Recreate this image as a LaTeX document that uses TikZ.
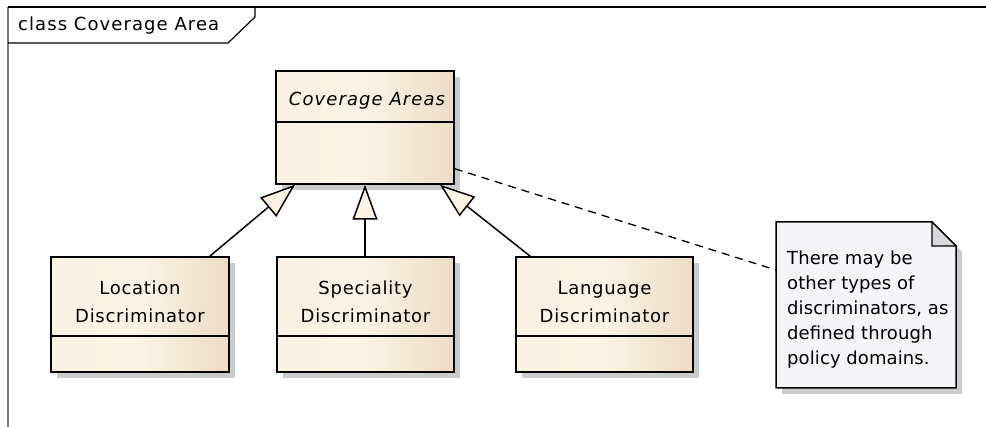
\documentclass[tikz,border=0pt]{standalone}
\usepackage{fontspec}
\setmainfont{DejaVu Sans}
\newfontfamily\boxfont{DejaVu Sans}[LetterSpace=4]
\newfontfamily\italfont{DejaVu Sans}[LetterSpace=6]
\newfontfamily\titlefont{DejaVu Sans}[LetterSpace=6]
\newfontfamily\notefont{DejaVu Sans}[LetterSpace=0.5]
\usetikzlibrary{arrows.meta,calc,shadows}
\definecolor{shadowgray}{HTML}{CBCBCB}
\definecolor{boxleft}{HTML}{FBF2E4}
\definecolor{boxmid}{HTML}{FCF3E6}
\definecolor{boxright}{HTML}{ECDCC5}
\definecolor{arrowfill}{HTML}{FDF4E6}
\definecolor{notefill}{HTML}{F5F4F8}
\definecolor{foldfill}{HTML}{D8D7DC}
\definecolor{framegray}{HTML}{7A7A7A}
\tikzset{
  classbox/.style={draw=black, line width=1.5pt, minimum width=178pt, inner sep=0pt,
    left color=boxleft, right color=boxright, middle color=boxmid,
    drop shadow={shadow xshift=6pt, shadow yshift=-6pt, fill=shadowgray, opacity=1}},
  boxtext/.style={font=\boxfont\fontsize{18}{28}\selectfont, align=center, inner sep=0pt},
  divider/.style={line width=1.5pt},
  generalization/.style={line width=1.5pt, -{Triangle[length=35pt,width=25pt,fill=arrowfill]}},
  notelink/.style={line width=1.3pt, dash pattern=on 8pt off 6pt},
}
\begin{document}
\begin{tikzpicture}[x=1pt,y=-1pt]
\useasboundingbox (0,0) rectangle (986,427);
% frame
\draw[framegray, line width=1.2pt] (8,427) -- (8,7);
\draw[black, line width=1.2pt] (8,7) -- (986,7);
\draw[black, line width=1.2pt] (8,43) -- (228,43) -- (255,17) -- (255,7);
\node[anchor=west, inner sep=0pt, font=\titlefont\fontsize{18}{22}\selectfont] (frametitle) at (18,26) {class Coverage Area};

% class boxes
\node[classbox, minimum height=113pt] (ca) at (365,127.5) {};
\draw[divider] ($(ca.north west)+(0,52)$) -- ($(ca.north east)+(0,52)$);
\node[font=\italfont\itshape\fontsize{18}{28}\selectfont, inner sep=0pt] (catext) at (367,101) {Coverage Areas};

\node[classbox, minimum height=115pt] (loc) at (140,314.5) {};
\draw[divider] ($(loc.north west)+(0,80)$) -- ($(loc.north east)+(0,80)$);
\node[boxtext] (loctext) at (140,302) {Location\\Discriminator};

\node[classbox, minimum height=115pt, minimum width=177pt] (spec) at (365.5,314.5) {};
\draw[divider] ($(spec.north west)+(0,80)$) -- ($(spec.north east)+(0,80)$);
\node[boxtext] (spectext) at (365.5,302) {Speciality\\Discriminator};

\node[classbox, minimum height=115pt, minimum width=177pt] (lang) at (604.5,314.5) {};
\draw[divider] ($(lang.north west)+(0,80)$) -- ($(lang.north east)+(0,80)$);
\node[boxtext] (langtext) at (604.5,302) {Language\\Discriminator};

% generalizations
\draw[generalization] ([xshift=-20pt]loc.north east) -- ([xshift=-70pt]ca.south);
\draw[generalization] (spec.north -| ca.south) -- (ca.south);
\draw[generalization] ([xshift=15pt]lang.north west) -- ([xshift=75pt]ca.south);

% note
\coordinate (nNW) at (776,222);
\coordinate (nSE) at (956,388);
\coordinate (nfoldA) at (932,222);
\coordinate (nfoldB) at (956,246);
\fill[shadowgray] ($(nNW)+(6,6)$) -- ($(nfoldA)+(6,6)$) -- ($(nfoldB)+(6,6)$) -- ($(nSE)+(6,6)$) -- ($(nNW|-nSE)+(6,6)$) -- cycle;
\draw[line width=1.5pt, fill=notefill] (nNW) -- (nfoldA) -- (nfoldB) -- (nSE) -- (nNW|-nSE) -- cycle;
\draw[line width=1.2pt, fill=foldfill] (nfoldA) -- (nfoldA|-nfoldB) -- (nfoldB) -- cycle;
\node[font=\notefont\fontsize{18}{25}\selectfont, align=left, inner sep=0pt, anchor=north west] (notetext) at (787,251)
  {There may be\\other types of\\discriminators, as\\defined through\\policy domains.};
\coordinate (notein) at (776,270);
\draw[notelink] ([yshift=16pt]ca.south east) -- (notein);
\end{tikzpicture}
\end{document}
